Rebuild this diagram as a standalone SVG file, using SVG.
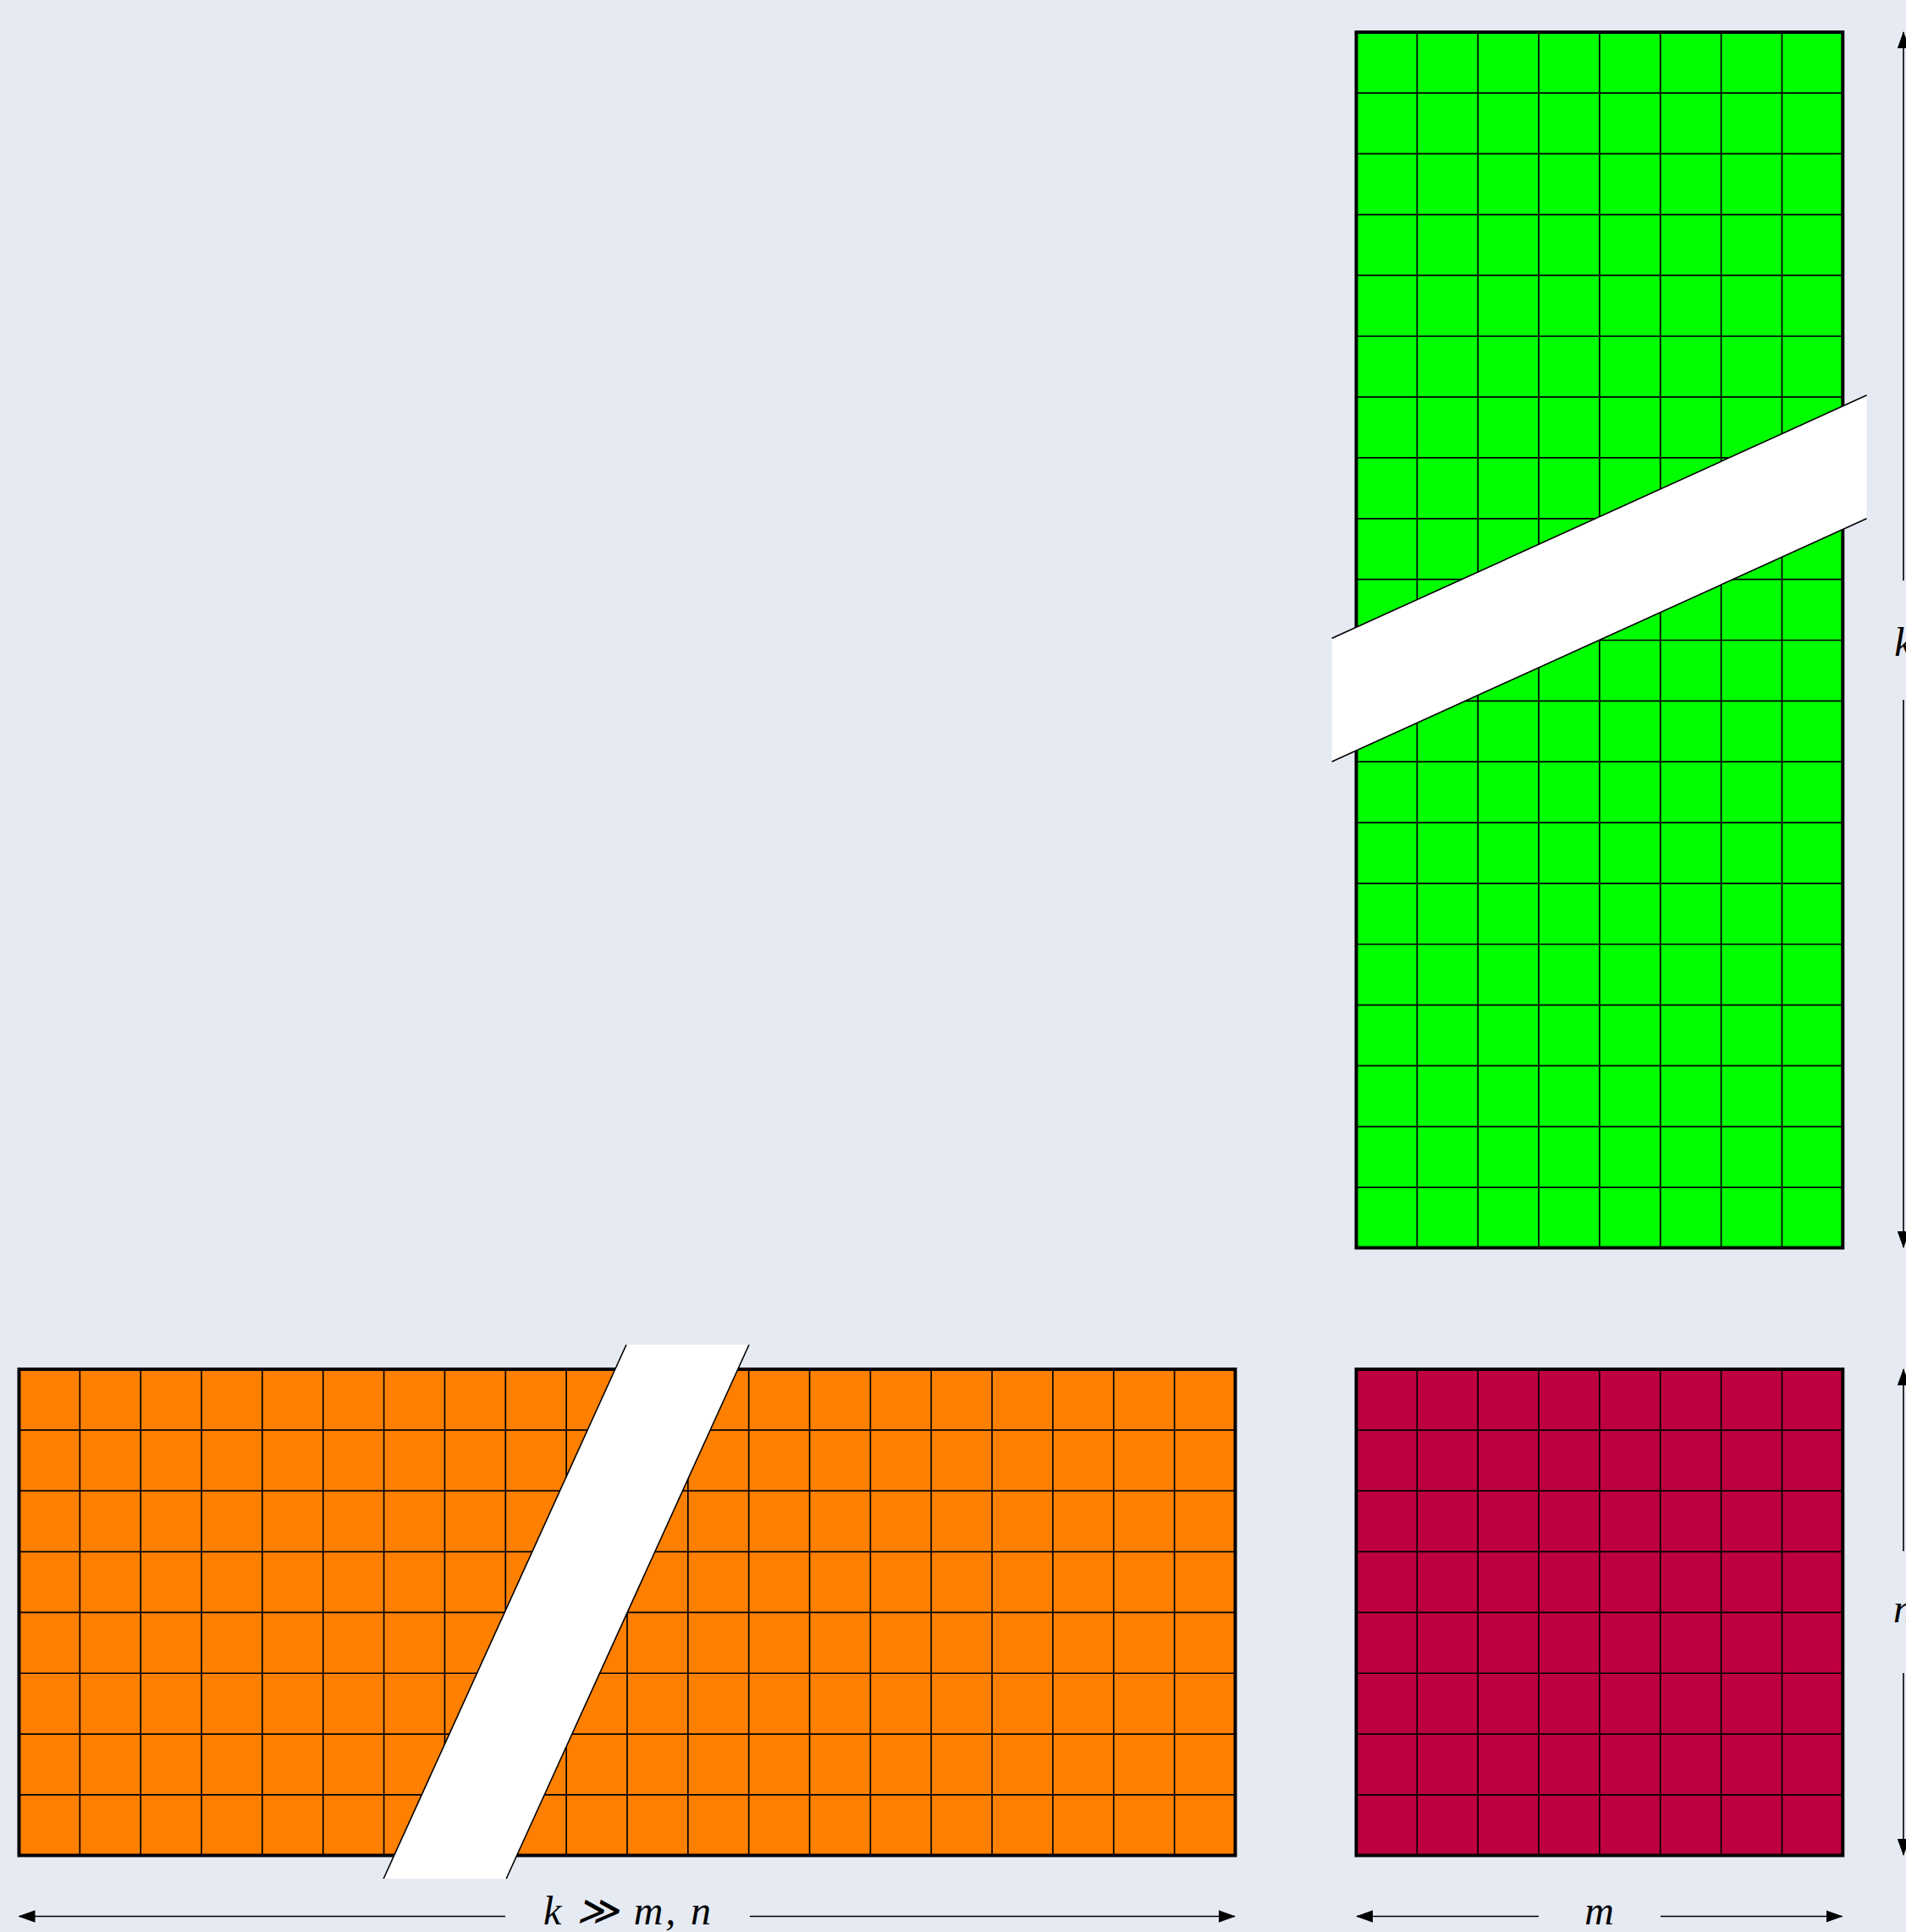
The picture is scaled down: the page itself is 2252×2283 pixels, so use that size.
<svg xmlns="http://www.w3.org/2000/svg" width="2252" height="2283" viewBox="0 0 2252 2283">
<style>
.grid{fill:none;stroke:#000;stroke-width:1.7}
.frame{fill:none;stroke:#000;stroke-width:4}
.band{fill:#fff;stroke:none}
.bandedge{fill:none;stroke:#000;stroke-width:1.6}
.arr{fill:none;stroke:#000;stroke-width:1.6}
.lbl{font-family:"Liberation Serif","DejaVu Serif",serif;font-style:italic;font-size:48px;fill:#000}
</style>
<defs>
<marker id="ah" viewBox="0 0 20 14.4" markerWidth="20" markerHeight="14.4" refX="19" refY="7.2" orient="auto-start-reverse" markerUnits="userSpaceOnUse">
<path d="M0,0 L20,7.2 L0,14.4 z" fill="#000"/>
</marker>
</defs>
<rect x="0" y="0" width="2252" height="2283" fill="#e5eaf3"/>

<g id="green-matrix">
<rect x="1602.5" y="38" width="574.8" height="1436.5" fill="#00ff00"/>
<path class="grid" d="M1674.35,38V1474.5M1746.2,38V1474.5M1818.05,38V1474.5M1889.9,38V1474.5M1961.75,38V1474.5M2033.6,38V1474.5M2105.45,38V1474.5
M1602.5,109.85H2177.3M1602.5,181.7H2177.3M1602.5,253.55H2177.3M1602.5,325.4H2177.3M1602.5,397.25H2177.3M1602.5,469.1H2177.3M1602.5,540.95H2177.3M1602.5,612.8H2177.3M1602.5,684.65H2177.3M1602.5,756.5H2177.3M1602.5,828.35H2177.3M1602.5,900.2H2177.3M1602.5,972.05H2177.3M1602.5,1043.9H2177.3M1602.5,1115.75H2177.3M1602.5,1187.6H2177.3M1602.5,1259.45H2177.3M1602.5,1331.3H2177.3M1602.5,1403.15H2177.3"/>
<rect class="frame" x="1602.5" y="38" width="574.8" height="1436.5"/>
<polygon class="band" points="1573.7,754.3 2205.5,467.1 2205.5,612.8 1573.7,900"/>
<path class="bandedge" d="M1573.7,754.3L2205.5,467.1M1573.7,900L2205.5,612.8"/>
</g>

<g id="orange-matrix">
<rect x="22.5" y="1618" width="1437" height="574.5" fill="#ff8000"/>
<path class="grid" d="M94.35,1618V2192.5M166.2,1618V2192.5M238.05,1618V2192.5M309.9,1618V2192.5M381.75,1618V2192.5M453.6,1618V2192.5M525.45,1618V2192.5M597.3,1618V2192.5M669.15,1618V2192.5M741,1618V2192.5M812.85,1618V2192.5M884.7,1618V2192.5M956.55,1618V2192.5M1028.4,1618V2192.5M1100.25,1618V2192.5M1172.1,1618V2192.5M1243.95,1618V2192.5M1315.8,1618V2192.5M1387.65,1618V2192.5
M22.5,1689.85H1459.5M22.5,1761.7H1459.5M22.5,1833.55H1459.5M22.5,1905.4H1459.5M22.5,1977.25H1459.5M22.5,2049.1H1459.5M22.5,2120.95H1459.5"/>
<rect class="frame" x="22.5" y="1618" width="1437" height="574.5"/>
<polygon class="band" points="740,1589 885,1589 598.2,2220 453.2,2220"/>
<path class="bandedge" d="M740,1589L453.2,2220M885,1589L598.2,2220"/>
</g>

<g id="red-matrix">
<rect x="1602.5" y="1618" width="574.8" height="574.5" fill="#bf0040"/>
<path class="grid" d="M1674.35,1618V2192.5M1746.2,1618V2192.5M1818.05,1618V2192.5M1889.9,1618V2192.5M1961.75,1618V2192.5M2033.6,1618V2192.5M2105.45,1618V2192.5
M1602.5,1689.85H2177.3M1602.5,1761.7H2177.3M1602.5,1833.55H2177.3M1602.5,1905.4H2177.3M1602.5,1977.25H2177.3M1602.5,2049.1H2177.3M1602.5,2120.95H2177.3"/>
<rect class="frame" x="1602.5" y="1618" width="574.8" height="574.5"/>
</g>

<g id="connectors">
<line class="arr" x1="2249" y1="686" x2="2249" y2="38" marker-end="url(#ah)"/>
<line class="arr" x1="2249" y1="827" x2="2249" y2="1474" marker-end="url(#ah)"/>
<line class="arr" x1="2249" y1="1833" x2="2249" y2="1618" marker-end="url(#ah)"/>
<line class="arr" x1="2249" y1="1977" x2="2249" y2="2192" marker-end="url(#ah)"/>
<line class="arr" x1="597" y1="2264.5" x2="22.5" y2="2264.5" marker-end="url(#ah)"/>
<line class="arr" x1="886" y1="2264.5" x2="1459" y2="2264.5" marker-end="url(#ah)"/>
<line class="arr" x1="1818" y1="2264.5" x2="1603" y2="2264.5" marker-end="url(#ah)"/>
<line class="arr" x1="1962" y1="2264.5" x2="2176.5" y2="2264.5" marker-end="url(#ah)"/>
</g>

<g id="labels">
<text class="lbl" x="2249" y="775" text-anchor="middle">k</text>
<text class="lbl" x="2249" y="1917" text-anchor="middle">n</text>
<text class="lbl" x="741" y="2274" text-anchor="middle" textLength="198" lengthAdjust="spacing">k ≫ m, n</text>
<text class="lbl" x="1889.5" y="2274" text-anchor="middle">m</text>
</g>
</svg>
